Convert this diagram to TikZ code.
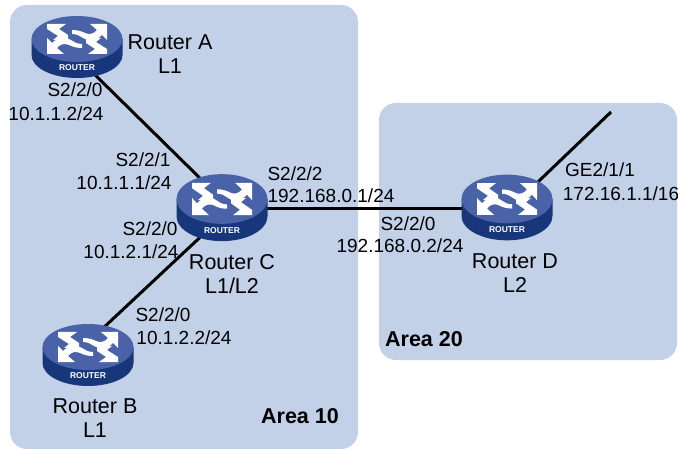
\documentclass[tikz,border=0pt]{standalone}
\usepackage{fontspec}
\setmainfont{Liberation Sans}
\usetikzlibrary{calc,shapes.geometric}
\definecolor{areabg}{HTML}{C2D0E8}
\definecolor{rtop}{HTML}{4A63A8}
\definecolor{rside}{HTML}{17377A}
\newcommand{\routerbox}[3]{%
  \begin{scope}[shift={(#2)},yscale=#3]
    \fill[rside] (-45.5,0) -- (-45.5,16) arc[start angle=180,end angle=0,x radius=45.5,y radius=23] -- (45.5,0) -- cycle;
    \node[RTOP,transform shape] (#1) at (0,0) {};
    \foreach \sx in {1,-1}{
      \fill[white,xscale=\sx,yscale=\sx] (30,-15) -- (30,1) -- (25,-4) .. controls (19,2) and (12,3) .. (6,-1) .. controls (3,-3) and (0,-5) .. (-5,-5) -- (-5,-9) .. controls (0,-9) and (4,-8) .. (8,-6) .. controls (12,-4) and (17,-5) .. (20,-9) -- (13,-15) -- cycle;
      \fill[white,xscale=\sx,yscale=\sx] (-30,-15) -- (-11,-15) -- (-18,-10) -- (-9,-4) -- (-9,1) -- (-24,1) -- (-19,-3) -- (-30,-10) -- cycle;
    }
    \node[RTAG] (#1t) at (0,29) {ROUTER};
  \end{scope}}
\begin{document}
\begin{tikzpicture}[x=1pt,y=-1pt,
    AREA/.style={fill=areabg, draw=none, rounded corners=17pt},
    RTOP/.style={ellipse, fill=rtop, draw=none, inner sep=0, minimum width=91pt, minimum height=46pt},
    RTAG/.style={text=white, inner sep=0, font=\fontsize{8.5}{9}\selectfont\bfseries},
    LBL/.style={inner sep=0, font=\fontsize{19}{23}\selectfont, align=center},
    NAMEL/.style={inner sep=0, font=\fontsize{21.5}{23.5}\selectfont, align=center},
    ALBL/.style={inner sep=0, font=\fontsize{21.5}{23}\selectfont\bfseries},
    LNK/.style={line width=3pt, draw=black}
    ]
    \useasboundingbox (0,0) rectangle (678,449);
    \fill[AREA] (10,5) rectangle (358,449);
    \fill[AREA] (379,103) rectangle (677,360);
    % links go under the routers
    \coordinate (RAc) at (77,39);
    \coordinate (RBc) at (88,347);
    \coordinate (RCc) at (222,199);
    \coordinate (RDc) at (507,199);
    \coordinate (RAl) at (85,65);
    \coordinate (RBl) at (100,331);
    \coordinate (RCa) at (210,188);
    \coordinate (RCb) at (210,228);
    \coordinate (RCd) at (222,209);
    \coordinate (RDc1) at (507,209);
    \coordinate (RDs) at (517,202);
    \coordinate (stub) at (611,112);
    \draw[LNK] (RAl) -- (RCa);
    \draw[LNK] (RBl) -- (RCb);
    \draw[LNK] (RCd) -- (RDc1);
    \draw[LNK] (RDs) -- (stub);
    \routerbox{RA}{RAc}{1}
    \routerbox{RB}{RBc}{1}
    \routerbox{RC}{RCc}{1.08}
    \routerbox{RD}{RDc}{1.06}
    \node[NAMEL] (la) at (170,54) {Router A\\L1};
    \node[NAMEL] (lb) at (95,418) {Router B\\L1};
    \node[NAMEL] (lc) at (232,274) {Router C\\L1/L2};
    \node[NAMEL] (ld) at (515,273) {Router D\\L2};
    \node[LBL] (a1) at (75,90) {S2/2/0};
    \node[LBL] (a2) at (56,114) {10.1.1.2/24};
    \node[LBL] (c1) at (143,160) {S2/2/1};
    \node[LBL] (c2) at (124,183) {10.1.1.1/24};
    \node[LBL] (c3) at (150,229) {S2/2/0};
    \node[LBL] (c4) at (131,252) {10.1.2.1/24};
    \node[LBL] (b1) at (163,315) {S2/2/0};
    \node[LBL] (b2) at (184,338) {10.1.2.2/24};
    \node[LBL] (c5) at (295,174) {S2/2/2};
    \node[LBL] (c6) at (331,196) {192.168.0.1/24};
    \node[LBL] (d1) at (408,224) {S2/2/0};
    \node[LBL] (d2) at (400,246) {192.168.0.2/24};
    \node[LBL] (d3) at (600,170) {GE2/1/1};
    \node[LBL] (d4) at (621,194) {172.16.1.1/16};
    \node[ALBL] (ar1) at (300,416) {Area 10};
    \node[ALBL] (ar2) at (424,339) {Area 20};
\end{tikzpicture}
\end{document}
